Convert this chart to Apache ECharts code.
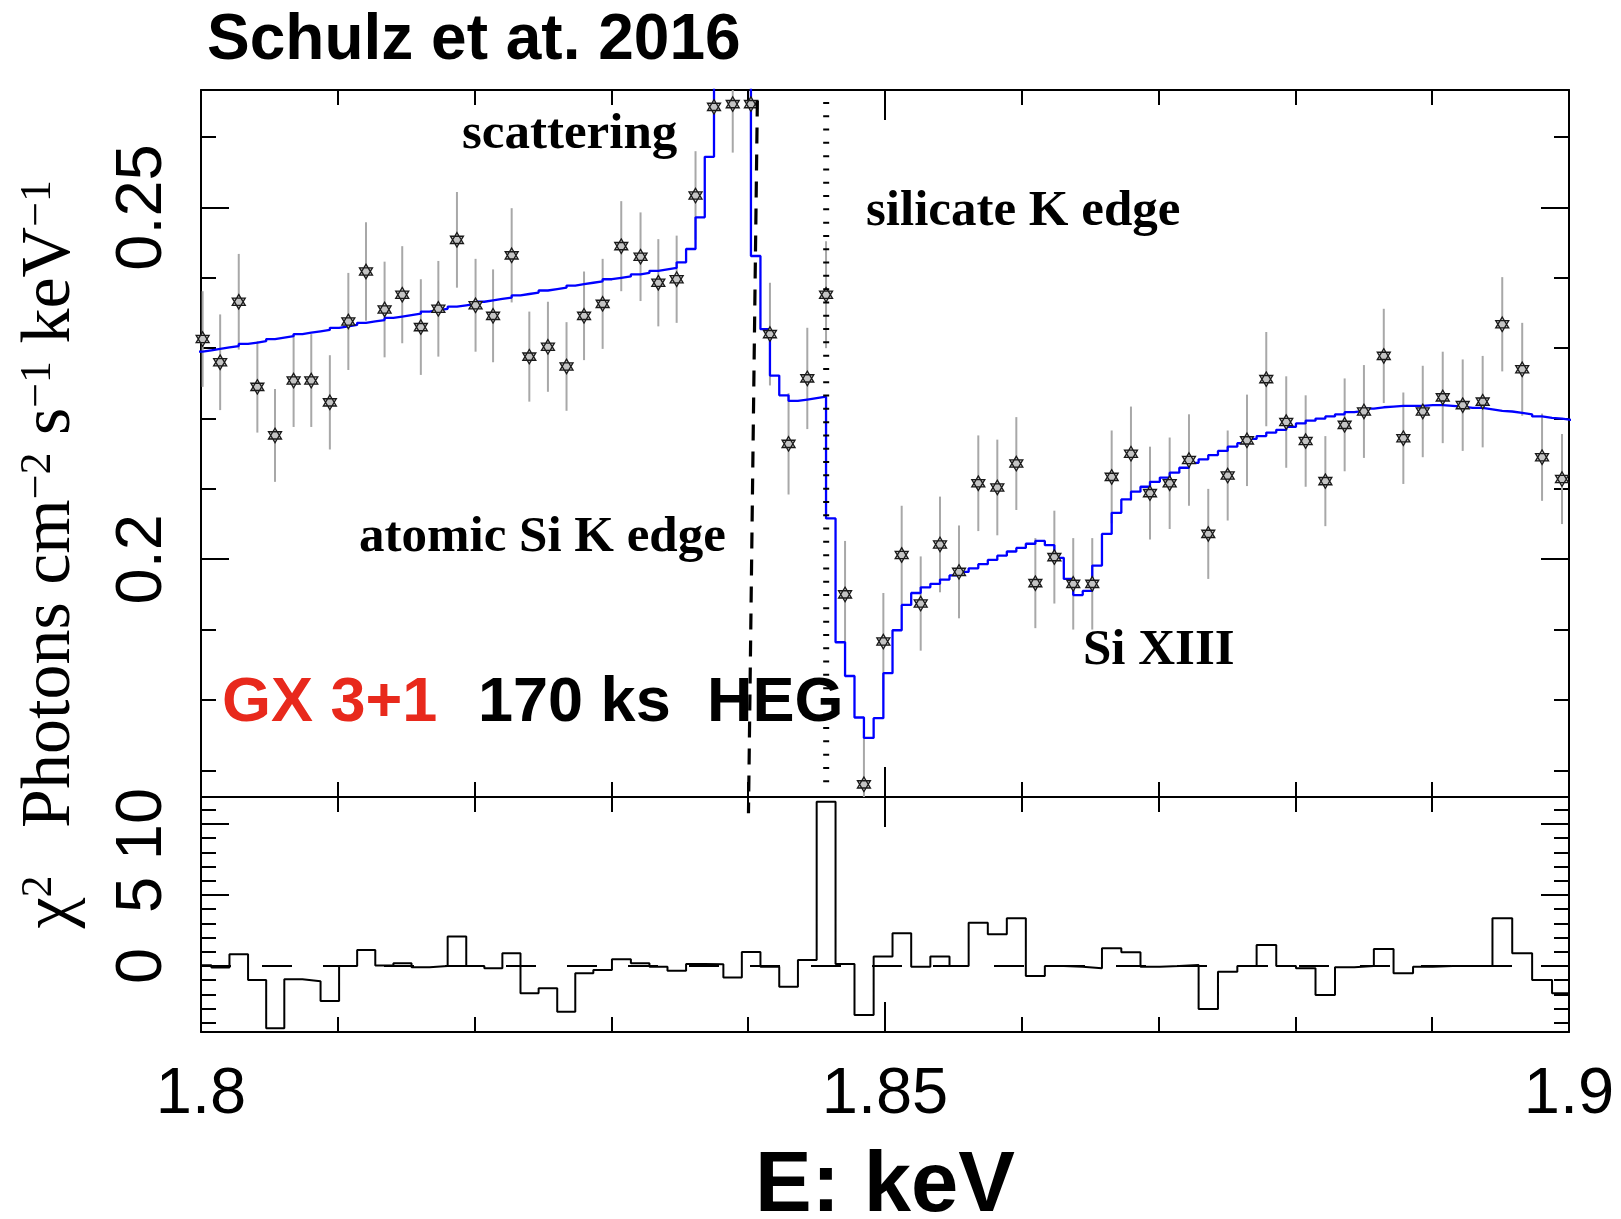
<!DOCTYPE html>
<html>
<head>
<meta charset="utf-8">
<script src="https://cdn.jsdelivr.net/npm/echarts/dist/echarts.min.js"></script>
<style>
html,body{margin:0;padding:0;background:#ffffff;}
#chart{width:1621px;height:1219px;}
</style>
</head>
<body>
<div id="chart"></div>
<script>
// ---------------- data ----------------
// bin centres (keV)
const energy = [
  1.80012, 1.80140, 1.80276, 1.80412, 1.80541, 1.80677, 1.80806, 1.80942, 1.81077, 1.81206,
  1.81342, 1.81471, 1.81607, 1.81735, 1.81871, 1.82007, 1.82135, 1.82271, 1.82400, 1.82536,
  1.82672, 1.82800, 1.82936, 1.83072, 1.83213, 1.83343, 1.83477, 1.83615, 1.83750, 1.83887,
  1.84020, 1.84159, 1.84295, 1.84432, 1.84569, 1.84708, 1.84846, 1.84988, 1.85122, 1.85261,
  1.85402, 1.85541, 1.85682, 1.85821, 1.85960, 1.86099, 1.86238, 1.86376, 1.86515, 1.86657,
  1.86798, 1.86937, 1.87081, 1.87222, 1.87363, 1.87505, 1.87646, 1.87787, 1.87933, 1.88075,
  1.88219, 1.88360, 1.88501, 1.88646, 1.88789, 1.88931, 1.89077, 1.89223, 1.89369, 1.89512,
  1.89658, 1.89803, 1.89949
];
// observed flux (photons cm^-2 s^-1 keV^-1)
const flux = [
  0.2313, 0.2280, 0.2366, 0.2245, 0.2176, 0.2254, 0.2254, 0.2223, 0.2338, 0.2409,
  0.2355, 0.2376, 0.2330, 0.2356, 0.2454, 0.2361, 0.2346, 0.2432, 0.2288, 0.2302,
  0.2274, 0.2346, 0.2363, 0.2445, 0.2430, 0.2393, 0.2398, 0.2517, 0.2643, 0.2647,
  0.2647, 0.2320, 0.2164, 0.2257, 0.2376, 0.1950, 0.1680, 0.1883, 0.2006, 0.1937,
  0.2021, 0.1982, 0.2108, 0.2102, 0.2136, 0.1966, 0.2003, 0.1965, 0.1965, 0.2117,
  0.2150, 0.2094, 0.2108, 0.2141, 0.2036, 0.2119, 0.2169, 0.2256, 0.2195, 0.2168,
  0.2111, 0.2191, 0.2210, 0.2289, 0.2172, 0.2210, 0.2230, 0.2219, 0.2224, 0.2334,
  0.2270, 0.2145, 0.2114
];
// 1-sigma error (half length of the grey bars)
const fluxErr = [
  0.0068, 0.0068, 0.0068, 0.0065, 0.0066, 0.0066, 0.0066, 0.0067, 0.0069, 0.0070,
  0.0068, 0.0069, 0.0068, 0.0068, 0.0068, 0.0066, 0.0066, 0.0067, 0.0064, 0.0064,
  0.0063, 0.0063, 0.0064, 0.0064, 0.0063, 0.0062, 0.0062, 0.0063, 0.0069, 0.0069,
  0.0069, 0.0073, 0.0072, 0.0072, 0.0076, 0.0076, 0.0076, 0.0069, 0.0070, 0.0067,
  0.0068, 0.0066, 0.0068, 0.0068, 0.0066, 0.0064, 0.0066, 0.0065, 0.0065, 0.0066,
  0.0067, 0.0066, 0.0065, 0.0065, 0.0064, 0.0064, 0.0065, 0.0067, 0.0065, 0.0065,
  0.0064, 0.0066, 0.0066, 0.0067, 0.0065, 0.0065, 0.0065, 0.0065, 0.0065, 0.0067,
  0.0066, 0.0062, 0.0064
];
// model (blue histogram) is drawn at half-bin resolution:
// value on the left half and on the right half of each data bin
const modelLeft = [
  0.2295, 0.2299, 0.2303, 0.2308, 0.2313, 0.2317, 0.2322, 0.2326, 0.2331, 0.2336,
  0.2340, 0.2345, 0.2349, 0.2354, 0.2359, 0.2363, 0.2368, 0.2372, 0.2377, 0.2382,
  0.2386, 0.2391, 0.2395, 0.2400, 0.2405, 0.2410, 0.2414, 0.2441, 0.2572, 0.3000,
  0.2800, 0.2327, 0.2233, 0.2227, 0.2231, 0.1882, 0.1775, 0.1774, 0.1899, 0.1952,
  0.1965, 0.1977, 0.1987, 0.1999, 0.2011, 0.2022, 0.2020, 0.1972, 0.1955, 0.2036,
  0.2085, 0.2103, 0.2116, 0.2130, 0.2142, 0.2154, 0.2165, 0.2175, 0.2184, 0.2193,
  0.2200, 0.2206, 0.2211, 0.2216, 0.2218, 0.2218, 0.2219, 0.2217, 0.2215, 0.2211,
  0.2208, 0.2203, 0.2200
];
const modelRight = [
  0.2297, 0.2301, 0.2306, 0.2310, 0.2315, 0.2320, 0.2324, 0.2329, 0.2333, 0.2338,
  0.2343, 0.2347, 0.2352, 0.2356, 0.2361, 0.2366, 0.2370, 0.2375, 0.2379, 0.2384,
  0.2389, 0.2393, 0.2398, 0.2402, 0.2407, 0.2412, 0.2422, 0.2486, 0.2850, 0.2950,
  0.2431, 0.2261, 0.2225, 0.2229, 0.2058, 0.1834, 0.1746, 0.1838, 0.1935, 0.1960,
  0.1971, 0.1982, 0.1993, 0.2005, 0.2016, 0.2026, 0.2002, 0.1949, 0.1991, 0.2066,
  0.2096, 0.2110, 0.2123, 0.2137, 0.2148, 0.2160, 0.2171, 0.2180, 0.2188, 0.2197,
  0.2203, 0.2209, 0.2214, 0.2217, 0.2218, 0.2219, 0.2218, 0.2215, 0.2213, 0.2210,
  0.2206, 0.2201, 0.2198
];
// chi^2 contribution per bin (signed)
const chi2 = [
  0.05, -0.10, 0.82, -0.99, -4.39, -0.94, -1.08, -2.46, 0.00, 1.13,
  0.03, 0.19, -0.09, 0.00, 2.07, 0.00, -0.16, 0.89, -1.92, -1.57,
  -3.22, -0.52, -0.28, 0.47, 0.19, -0.05, -0.33, 0.14, 0.12, -0.82,
  0.99, -0.05, -1.46, 0.42, 11.57, 0.14, -3.45, 0.66, 2.30, -0.05,
  0.66, 0.00, 3.05, 2.23, 3.36, -0.70, 0.00, -0.05, -0.16, 1.24,
  0.96, -0.05, 0.00, 0.07, -3.03, -0.40, 0.00, 1.48, 0.00, -0.16,
  -2.04, -0.09, 0.00, 1.20, -0.52, -0.05, 0.00, 0.00, 0.00, 3.36,
  0.89, -0.99, -1.92
];
// edge markers (keV, flux range)
const atomicEdgeE = [1.84067, 1.84002];
const atomicEdgeFlux = [0.2652, 0.1639];
const silicateEdgeE = [1.8457, 1.8457];
const silicateEdgeFlux = [0.2650, 0.1675];
// axes / ticks
const xRange = [1.8, 1.9];
const fluxRange = [0.1662, 0.2667];
const chiRange = [-4.65, 11.9];
const fluxMajorTicks = [0.2, 0.25];
const fluxMinorTicks = [0.17, 0.18, 0.19, 0.21, 0.22, 0.23, 0.24, 0.26];
const chiMajorTicks = [0, 5, 10];
const chiMinorTicks = [-4, -3, -2, -1, 1, 2, 3, 4, 6, 7, 8, 9, 11];

// ---------------- build series data ----------------
const n = energy.length;
const edges = [];
for (let i = 0; i <= n; i++) {
  if (i === 0) edges.push(energy[0] - (energy[1] - energy[0]) / 2);
  else if (i === n) edges.push(energy[n - 1] + (energy[n - 1] - energy[n - 2]) / 2);
  else edges.push((energy[i - 1] + energy[i]) / 2);
}
const modelSteps = [];
for (let i = 0; i < n; i++) {
  modelSteps.push([edges[i], modelLeft[i]]);
  modelSteps.push([energy[i], modelRight[i]]);
}
modelSteps.push([edges[n], modelRight[n - 1]]);
const chiSteps = [];
for (let i = 0; i < n; i++) chiSteps.push([edges[i], chi2[i]]);
chiSteps.push([edges[n], chi2[n - 1]]);
const errData = energy.map((e, i) => [e, flux[i] - fluxErr[i], flux[i] + fluxErr[i]]);
const pointData = energy.map((e, i) => [e, flux[i]]);

// ---------------- chart ----------------
const SANS = 'Liberation Sans';
const SERIF = 'Liberation Serif';
const black = '#000000';

function xAx(grid, pos, labels) {
  return {
    type: 'value', gridIndex: grid, position: pos,
    min: xRange[0], max: xRange[1], interval: 0.05,
    axisLine: { show: true, onZero: false, lineStyle: { color: black, width: 2 } },
    axisTick: { show: true, inside: true, length: 30, lineStyle: { color: black, width: 2 } },
    minorTick: { show: true, splitNumber: 5, length: 15, lineStyle: { color: black, width: 2 } },
    splitLine: { show: false },
    axisLabel: labels ? {
      show: true, margin: 31, fontSize: 65, fontFamily: SANS, color: black,
      formatter: v => String(parseFloat(v.toFixed(2)))
    } : { show: false },
    name: labels ? 'E: keV' : '',
    nameLocation: 'middle', nameGap: 113,
    nameTextStyle: { fontSize: 85, fontWeight: 'bold', fontFamily: SANS, color: black }
  };
}
function yAx(grid, pos, range, ticks, len, labels, line) {
  return {
    type: 'value', gridIndex: grid, position: pos, min: range[0], max: range[1],
    axisLine: { show: line, onZero: false, lineStyle: { color: black, width: 2 } },
    axisTick: { show: true, inside: true, length: len, customValues: ticks, lineStyle: { color: black, width: 2 } },
    splitLine: { show: false },
    axisLabel: labels ? {
      show: true, customValues: ticks, rotate: 90, margin: 25, fontSize: 65, fontFamily: SANS, color: black,
      formatter: v => String(parseFloat(Number(v).toFixed(2)))
    } : { show: false }
  };
}

const chart = echarts.init(document.getElementById('chart'), null, { renderer: 'canvas' });
const txt = (x, y, text, size, family, color) => ({
  type: 'text', x: x, y: y, z: 10,
  style: { text: text, fontSize: size, fontWeight: 'bold', fontFamily: family, fill: color,
           align: 'left', verticalAlign: 'middle', textAlign: 'left', textVerticalAlign: 'middle' }
});
const option = {
  backgroundColor: '#ffffff',
  animation: false,
  grid: [
    { left: 201, top: 90, width: 1368, height: 707, containLabel: false, outerBoundsMode: 'none' },
    { left: 201, top: 797, width: 1368, height: 235, containLabel: false, outerBoundsMode: 'none' }
  ],
  xAxis: [
    xAx(0, 'bottom', false),
    xAx(0, 'top', false),
    xAx(1, 'top', false),
    xAx(1, 'bottom', true)
  ],
  yAxis: [
    yAx(0, 'left', fluxRange, fluxMajorTicks, 28, true, true),
    yAx(0, 'left', fluxRange, fluxMinorTicks, 15, false, false),
    yAx(0, 'right', fluxRange, fluxMajorTicks, 28, false, true),
    yAx(0, 'right', fluxRange, fluxMinorTicks, 15, false, false),
    yAx(1, 'left', chiRange, chiMajorTicks, 28, true, true),
    yAx(1, 'left', chiRange, chiMinorTicks, 15, false, false),
    yAx(1, 'right', chiRange, chiMajorTicks, 28, false, true),
    yAx(1, 'right', chiRange, chiMinorTicks, 15, false, false)
  ],
  series: [
    {
      name: 'error', type: 'custom', xAxisIndex: 0, yAxisIndex: 0, z: 2, clip: true,
      data: errData, encode: { x: 0, y: [1, 2] },
      renderItem: function (params, api) {
        const x = api.value(0);
        const lo = Math.max(api.value(1), fluxRange[0]);
        const hi = Math.min(api.value(2), fluxRange[1]);
        const p1 = api.coord([x, lo]);
        const p2 = api.coord([x, hi]);
        return { type: 'line', shape: { x1: p1[0], y1: p1[1], x2: p2[0], y2: p2[1] },
                 style: { stroke: '#a8a8a8', lineWidth: 2 } };
      }
    },
    {
      name: 'model', type: 'line', xAxisIndex: 0, yAxisIndex: 0, z: 3, clip: true,
      step: 'end', showSymbol: false, symbol: 'none', data: modelSteps,
      lineStyle: { color: '#0000ff', width: 2.3 }
    },
    {
      name: 'data', type: 'scatter', xAxisIndex: 0, yAxisIndex: 0, z: 4,
      symbol: 'path://M0,-10L8.66,5L-8.66,5ZM0,10L-8.66,-5L8.66,-5Z',
      symbolSize: [13, 14.5], data: pointData,
      itemStyle: { color: '#c4c4c4', borderColor: '#1a1a1a', borderWidth: 1.3, opacity: 1 }
    },
    {
      name: 'atomic edge', type: 'line', xAxisIndex: 0, yAxisIndex: 0, z: 5, clip: false,
      symbol: 'none', data: atomicEdgeE.map((e, i) => [e, atomicEdgeFlux[i]]),
      lineStyle: { color: black, width: 3.2, type: [16, 11] }
    },
    {
      name: 'silicate edge', type: 'line', xAxisIndex: 0, yAxisIndex: 0, z: 5, clip: false,
      symbol: 'none', data: silicateEdgeE.map((e, i) => [e, silicateEdgeFlux[i]]),
      lineStyle: { color: black, width: 6, type: [2, 11.3], cap: 'butt' }
    },
    {
      name: 'zero', type: 'line', xAxisIndex: 3, yAxisIndex: 4, z: 2,
      symbol: 'none', data: [[xRange[0], 0], [xRange[1], 0]],
      lineStyle: { color: black, width: 2, type: [30, 31] }
    },
    {
      name: 'chi2', type: 'line', xAxisIndex: 3, yAxisIndex: 4, z: 3, clip: true,
      step: 'end', symbol: 'none', data: chiSteps,
      lineStyle: { color: black, width: 2 }
    }
  ],
  graphic: [
    txt(207, 41, 'Schulz et at. 2016', 64, SANS, black),
    txt(462, 135, 'scattering', 51, SERIF, black),
    txt(866, 212, 'silicate K edge', 51, SERIF, black),
    txt(359, 538, 'atomic Si K edge', 51, SERIF, black),
    txt(1083, 651, 'Si XIII', 51, SERIF, black),
    txt(222, 704, 'GX 3+1', 63, SANS, '#e8291c'),
    txt(478, 704, '170 ks', 63, SANS, black),
    txt(707, 704, 'HEG', 63, SANS, black),
    { type: 'text', x: 51, y: 504, rotation: Math.PI / 2, style: {
        text: 'Photons cm{sup|−2} s{sup|−1} keV{sup|−1}', fontSize: 70, fontFamily: SERIF, fill: black,
        rich: { sup: { fontSize: 44, fontFamily: SERIF, fill: black, verticalAlign: 'top' } },
        align: 'center', verticalAlign: 'middle', textAlign: 'center', textVerticalAlign: 'middle' } },
    { type: 'text', x: 52, y: 902, rotation: Math.PI / 2, style: {
        text: 'χ{sup|2}', fontSize: 70, fontFamily: SERIF, fill: black,
        rich: { sup: { fontSize: 44, fontFamily: SERIF, fill: black, verticalAlign: 'top' } },
        align: 'center', verticalAlign: 'middle', textAlign: 'center', textVerticalAlign: 'middle' } }
  ]
};
chart.setOption(option);
</script>
</body>
</html>
